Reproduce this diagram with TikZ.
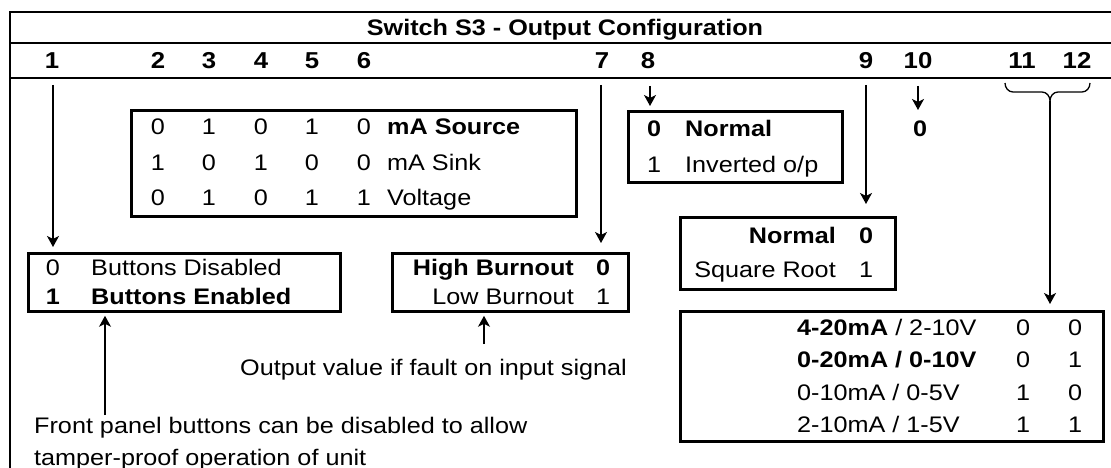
\documentclass[tikz,border=0pt]{standalone}
\usepackage{fontspec}
\setmainfont{Liberation Sans}[FakeStretch=1.12]
\usetikzlibrary{arrows.meta}
\begin{document}
\begin{tikzpicture}[x=1pt,y=-1pt,
  txt/.style={inner sep=0pt, font=\fontsize{22.5}{27}\selectfont},
  btxt/.style={inner sep=0pt, font=\fontsize{22.5}{27}\selectfont\bfseries},
  htxt/.style={inner sep=0pt, font=\fontsize{23}{27}\selectfont\bfseries},
  box/.style={draw, line width=2.8pt, inner sep=0pt, anchor=north west},
  conn/.style={line width=1.3pt, -{Stealth[length=11pt,width=12pt,inset=3pt]}},
  frameline/.style={line width=2.6pt},
  bracel/.style={line width=1.3pt}]
\useasboundingbox (0,0) rectangle (1111,468);
% frame
\draw[frameline] (10,468) -- (10,12) -- (1111,12);
\draw[frameline] (10,43) -- (1111,43);
\draw[frameline] (10,78) -- (1111,78);
\node[btxt, anchor=base] (title) at (565,36) {Switch S3 - Output Configuration};
% header digits
\foreach \n/\x in {1/52,2/158,3/209,4/261,5/312,6/364,7/602,8/648,9/866,10/918,11/1022,12/1077}
  \node[htxt, anchor=base] (h\n) at (\x,69) {\n};
% boxes
\node[box, minimum width=445, minimum height=106] (mabox) at (130,109) {};
\node[box, minimum width=214, minimum height=71] (invbox) at (627,110) {};
\node[box, minimum width=312, minimum height=58] (btnbox) at (27,252) {};
\node[box, minimum width=236, minimum height=58] (burnbox) at (391,252) {};
\node[box, minimum width=215, minimum height=72] (sqbox) at (679,216) {};
\node[box, minimum width=423, minimum height=130] (rangebox) at (679,310) {};
% mA box contents
\foreach \a/\b/\c/\d/\e/\y in {0/1/0/1/0/135,1/0/1/0/0/170,0/1/0/1/1/205}{
  \node[txt, anchor=base] at (158,\y) {\a};
  \node[txt, anchor=base] at (209,\y) {\b};
  \node[txt, anchor=base] at (261,\y) {\c};
  \node[txt, anchor=base] at (312,\y) {\d};
  \node[txt, anchor=base] at (364,\y) {\e};
}
\node[btxt, anchor=base west] (masrc) at (387,135) {mA Source};
\node[txt, anchor=base west] (masnk) at (387,170) {mA Sink};
\node[txt, anchor=base west] (volt) at (387,205) {Voltage};
% inverted box
\node[btxt, anchor=base] (inv0) at (654,137) {0};
\node[btxt, anchor=base west] (invn) at (685,137) {Normal};
\node[txt, anchor=base] (inv1) at (654,172) {1};
\node[txt, anchor=base west] (invi) at (685,172) {Inverted o/p};
% switch 10
\node[btxt, anchor=base] (ten0) at (920,137) {0};
% buttons box
\node[txt, anchor=base] (btn0) at (53,275) {0};
\node[txt, anchor=base west] (btnd) at (91,275) {Buttons Disabled};
\node[btxt, anchor=base] (btn1) at (53,304) {1};
\node[btxt, anchor=base west] (btne) at (91,304) {Buttons Enabled};
% burnout box
\node[btxt, anchor=base east] (hb) at (574,275) {High Burnout};
\node[btxt, anchor=base] (hb0) at (603,275) {0};
\node[txt, anchor=base east] (lb) at (574,304) {Low Burnout};
\node[txt, anchor=base] (lb1) at (603,304) {1};
% square root box
\node[btxt, anchor=base east] (nm) at (836,243) {Normal};
\node[btxt, anchor=base] (nm0) at (866,243) {0};
\node[txt, anchor=base east] (sr) at (836,277) {Square Root};
\node[txt, anchor=base] (sr1) at (866,277) {1};
% range box
\node[txt, anchor=base west] (r1) at (797,335) {\textbf{4-20mA} / 2-10V};
\node[btxt, anchor=base west] (r2) at (797,367) {0-20mA / 0-10V};
\node[txt, anchor=base west] (r3) at (797,400) {0-10mA / 0-5V};
\node[txt, anchor=base west] (r4) at (797,432) {2-10mA / 1-5V};
\foreach \a/\b/\y in {0/0/335,0/1/367,1/0/400,1/1/432}{
  \node[txt, anchor=base] at (1023,\y) {\a};
  \node[txt, anchor=base] at (1075,\y) {\b};
}
% notes
\node[txt, anchor=base east] (fault) at (627,375) {Output value if fault on input signal};
\node[txt, anchor=base west] (front) at (34,433) {Front panel buttons can be disabled to allow};
\node[txt, anchor=base west] (tamper) at (34,465) {tamper-proof operation of unit};
% connector start points
\coordinate (s1) at (53,85);
\coordinate (s7) at (601,85);
\coordinate (s8) at (650,86);
\coordinate (s10) at (918,86);
\coordinate (s9) at (866,85);
\coordinate (s12) at (1050,101);
\coordinate (u1) at (105,415);
\coordinate (u2) at (484,344);
% brace
\draw[bracel] (1005,83) to[out=-90,in=180] (1013,92) -- (1042,92) to[out=0,in=90] (s12)
  to[out=90,in=180] (1058,92) -- (1082,92) to[out=0,in=-90] (1090,83);
% connectors
\draw[conn, shorten >=5pt] (s1) -- (s1 |- btnbox.north);
\draw[conn, shorten >=9pt] (s7) -- (s7 |- burnbox.north);
\draw[conn, shorten >=4pt] (s8) -- (s8 |- invbox.north);
\draw[conn] (s10) -- (s10 |- invbox.north);
\draw[conn, shorten >=12pt] (s9) -- (s9 |- sqbox.north);
\draw[conn, shorten >=6pt] (s12) -- (s12 |- rangebox.north);
\draw[conn, shorten >=3pt] (u1) -- (u1 |- btnbox.south);
\draw[conn, shorten >=3pt] (u2) -- (u2 |- burnbox.south);
\end{tikzpicture}
\end{document}
